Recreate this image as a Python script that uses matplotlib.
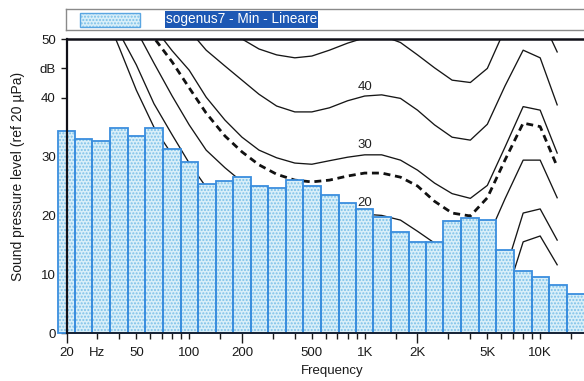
import numpy as np
import matplotlib
matplotlib.use("Agg")
import matplotlib.pyplot as plt
from matplotlib.patches import Rectangle

plt.rcParams['font.family'] = ['Liberation Sans', 'DejaVu Sans']
plt.rcParams['hatch.linewidth'] = 1.0

# 1/3-octave band centres (Hz) and measured band levels (dB)
bands = [20, 25, 31.5, 40, 50, 63, 80, 100, 125, 160, 200, 250, 315, 400, 500,
         630, 800, 1000, 1250, 1600, 2000, 2500, 3150, 4000, 5000, 6300, 8000,
         10000, 12500, 16000]
spectrum = [34.4, 33.0, 32.7, 34.9, 33.5, 34.9, 31.3, 29.1, 25.3, 25.9, 26.6,
            25.0, 24.7, 26.0, 25.0, 23.5, 22.1, 21.1, 19.7, 17.2, 15.5, 15.5,
            19.0, 19.6, 19.2, 14.1, 10.6, 9.6, 8.2, 6.6]

# equal-loudness contours, defined on the bands up to 12.5 kHz
contour_freqs = bands[:29]
contour_thr = [70, 63, 56, 48.5, 41.3, 35.0, 30.3, 25.7, 21.6, 17.9, 15.0, 12.4,
               10.4, 8.2, 6.8, 5.8, 4.6, 4.3, 3.1, 2.2, 1.9, 3.1, 3.2, 2.6, 2.2,
               5.7, 15.5, 16.5, 11.6]
contour_10 = [75, 68, 57, 51, 45.6, 39.0, 33.7, 28.9, 24.8, 20.9, 18.2, 15.8,
              13.8, 12.1, 11.0, 10.5, 9.7, 9.5, 9.2, 8.5, 8.3, 8.5, 8.3, 7.8, 8.0,
              10.4, 20.4, 21.1, 15.8]
contour_20 = [80, 72, 65, 57, 51.5, 45.9, 40.3, 35.4, 31.1, 28.1, 25.7, 23.6,
              22.1, 21.1, 20.6, 20.4, 20.4, 20.2, 20.0, 19.2, 17.3, 15.3, 13.8,
              13.3, 16.0, 22.8, 29.4, 29.4, 23.0]
contour_min = [85, 77, 69, 62, 56, 50.2, 46.1, 41.7, 37.4, 33.5, 30.8, 28.6,
               27.0, 26.0, 25.7, 26.0, 26.7, 27.2, 27.2, 26.5, 25.0, 22.4, 20.4,
               19.9, 23.0, 29.4, 35.7, 35.1, 28.3]
contour_30 = [90, 82, 74, 66, 59, 52.0, 48.0, 44.7, 40.1, 36.2, 33.3, 31.1,
              29.8, 28.9, 28.7, 29.3, 29.9, 30.3, 30.3, 29.4, 27.7, 25.5, 23.7,
              22.9, 25.1, 31.6, 38.5, 37.9, 30.6]
contour_40 = [95, 88, 80, 72, 65, 60, 55.5, 51.5, 48.1, 45.4, 43.0, 40.6, 38.6,
              37.6, 37.6, 38.3, 39.5, 40.3, 40.5, 39.9, 37.9, 35.4, 33.3, 32.8,
              35.5, 42.0, 48.1, 46.8, 38.8]
contour_50 = [100, 93, 86, 79, 73, 68, 64, 60, 56, 52.5, 50.0, 48.3, 47.3, 46.8,
              47.1, 48.1, 49.3, 50.2, 50.6, 49.4, 47.3, 45.1, 43.0, 42.6, 45.0,
              51.7, 57.0, 54.0, 47.8]
contour_labels = ["40", "30", "20"]
label_values = [41.9, 32.0, 22.1]
label_freq = 1000

y_ticks = [0, 10, 20, 30, 40, 45, 50]
y_ticklabels = ["0", "10", "20", "30", "40", "dB", "50"]
x_major = [20, 200, 2000, 20000]
x_major_labels = ["20", "200", "2K", ""]
x_minor = [30, 40, 50, 60, 70, 80, 90, 100, 150, 300, 400, 500, 600, 700, 800,
           900, 1000, 1500, 3000, 4000, 5000, 6000, 7000, 8000, 9000, 10000, 15000]
x_minor_labels = {30: "Hz", 50: "50", 100: "100", 500: "500", 1000: "1K",
                  5000: "5K", 10000: "10K"}

W, H = 584, 381
fig = plt.figure(figsize=(W / 100, H / 100), dpi=100)
ax = fig.add_axes([66.5 / W, 48 / H, 526.5 / W, 294 / H])
ax.set_xscale('log')
ax.set_xlim(20, 20000)
ax.set_ylim(0, 50)

# contours (behind the spectrum bars)
line_kw = dict(color='#161616', lw=0.95, zorder=1, solid_joinstyle='round')
for c in (contour_thr, contour_10, contour_20, contour_30, contour_40, contour_50):
    ax.plot(contour_freqs, c, **line_kw)
ax.plot(contour_freqs, contour_min, color='#111111', lw=2.0, dashes=(2.5, 1.7),
        zorder=1)
for txt, v in zip(contour_labels, label_values):
    ax.text(label_freq, v, txt, ha='center', va='center', fontsize=9.5,
            color='#222222', zorder=3)

# spectrum bars, 1/3-octave wide
f = np.array(bands, dtype=float)
inner = np.sqrt(f[:-1] * f[1:])
left = np.concatenate([[f[0] ** 2 / inner[0]], inner])
right = np.concatenate([inner, [f[-1] ** 2 / inner[-1]]])
ax.bar(left, spectrum, width=right - left, align='edge', facecolor='#d9eff9',
       edgecolor='#7cc1e9', hatch='.....', linewidth=0, zorder=2, clip_on=False)
ax.bar(left, spectrum, width=right - left, align='edge', fill=False,
       edgecolor='#3a8ede', linewidth=1.3, zorder=2.1, clip_on=False)

# axes frame
ax.spines['right'].set_visible(False)
ax.spines['top'].set_linewidth(1.8)
ax.spines['left'].set_linewidth(1.6)
ax.spines['bottom'].set_linewidth(1.2)
for s in ('top', 'left', 'bottom'):
    ax.spines[s].set_color('#101018')
    ax.spines[s].set_zorder(4)

ax.set_yticks(y_ticks, y_ticklabels)
ax.tick_params(axis='y', length=4.5, width=1.0, pad=3.2, labelsize=9.5,
               colors='#1a1a1a')
ax.set_xticks(x_major, x_major_labels)
ax.set_xticks(x_minor, [x_minor_labels.get(v, "") for v in x_minor], minor=True)
ax.tick_params(axis='x', which='major', length=7.5, width=1.0, pad=2.4,
               labelsize=9.5, colors='#1a1a1a')
ax.tick_params(axis='x', which='minor', length=4.3, width=1.0, pad=5.6,
               labelsize=9.5, colors='#1a1a1a')

fig.text(18 / W, 1 - 176 / H, "Sound pressure level (ref 20 \u00b5Pa)",
         rotation=90, ha='center', va='center', fontsize=10, color='#1a1a1a')
fig.text(332 / W, 1 - 371 / H, "Frequency", ha='center', va='center',
         fontsize=9.5, color='#1a1a1a')

# legend strip
lg = fig.add_axes([66 / W, 1 - 30 / H, 530 / W, 21 / H])
lg.set_xlim(0, 530)
lg.set_ylim(0, 21)
lg.set_xticks([])
lg.set_yticks([])
for s in lg.spines.values():
    s.set_color('#8a8a8a')
    s.set_linewidth(1.0)
lg.add_patch(Rectangle((14, 3), 60, 14, facecolor='#d9eff9', edgecolor='#7cc1e9',
                       hatch='.....', linewidth=0))
lg.add_patch(Rectangle((14, 3), 60, 14, fill=False, edgecolor='#5aa6e2',
                       linewidth=1.0))
lg.add_patch(Rectangle((99, 2), 153, 17, facecolor='#1d58b4', edgecolor='none'))
lg.text(100, 11, "sogenus7 - Min - Lineare", color='white', fontsize=9.8,
        ha='left', va='center')

fig.savefig("out.png", dpi=100)
